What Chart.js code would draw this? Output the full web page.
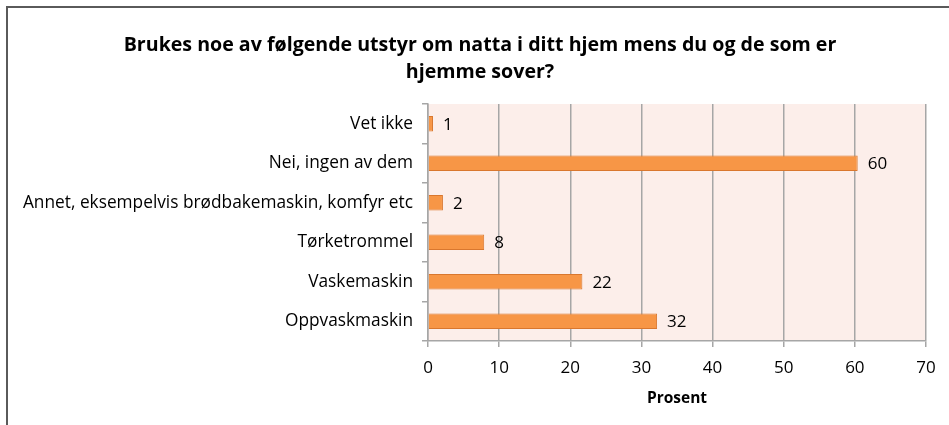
<!DOCTYPE html>
<html>
<head>
<meta charset="utf-8">
<script src="https://cdn.jsdelivr.net/npm/chart.js@4/dist/chart.umd.min.js"></script>
<style>
  html, body { margin: 0; padding: 0; background: #ffffff; }
  #wrap { position: relative; width: 949px; height: 425px; overflow: hidden; }
  #frame { position: absolute; left: 6px; top: 6px; width: 1000px; height: 1000px;
           border-left: 2px solid #5a5a5a; border-top: 2px solid #5a5a5a; box-sizing: border-box; }
  canvas { position: absolute; left: 0; top: 0; }
</style>
</head>
<body>
<div id="wrap">
  <div id="frame"></div>
  <canvas id="c" width="949" height="425"></canvas>
</div>
<script>
const titleLines = ["Brukes noe av følgende utstyr om natta i ditt hjem mens du og de som er", "hjemme sover?"];
const categories = ["Vet ikke", "Nei, ingen av dem", "Annet, eksempelvis brødbakemaskin, komfyr etc", "Tørketrommel", "Vaskemaskin", "Oppvaskmaskin"];
const values = [0.7, 60.4, 2.1, 7.9, 21.7, 32.2];
const valueLabels = ["1", "60", "2", "8", "22", "32"];
const xTicks = [0, 10, 20, 30, 40, 50, 60, 70];
const xTitle = "Prosent";

const FONT = "'Open Sans', Lato, sans-serif";

const plotBg = {
  id: 'plotBg',
  beforeDraw(chart) {
    const {ctx, chartArea: a} = chart;
    ctx.save();
    ctx.fillStyle = '#FCEEEA';
    ctx.fillRect(a.left, a.top, a.right - a.left, a.bottom - a.top);
    ctx.restore();
  }
};

const titleText = {
  id: 'titleText',
  afterDraw(chart) {
    const {ctx} = chart;
    ctx.save();
    ctx.font = "bold 19.6px " + FONT;
    ctx.fillStyle = '#000000';
    ctx.textAlign = 'center';
    ctx.textBaseline = 'middle';
    ctx.fillText(titleLines[0], 480, 45);
    ctx.fillText(titleLines[1], 480, 72);
    ctx.restore();
  }
};

const valLabels = {
  id: 'valLabels',
  afterDatasetsDraw(chart) {
    const {ctx} = chart;
    const meta = chart.getDatasetMeta(0);
    ctx.save();
    ctx.font = "17px " + FONT;
    ctx.fillStyle = '#000000';
    ctx.textAlign = 'left';
    ctx.textBaseline = 'middle';
    meta.data.forEach((bar, i) => {
      ctx.fillText(valueLabels[i], bar.x + 10, bar.y + 1);
    });
    ctx.restore();
  }
};

new Chart(document.getElementById('c'), {
  type: 'bar',
  data: {
    labels: categories,
    datasets: [{
      data: values,
      backgroundColor: '#F79646',
      borderColor: '#D9772E',
      borderWidth: 1,
      categoryPercentage: 1,
      barPercentage: 0.39
    }]
  },
  options: {
    indexAxis: 'y',
    responsive: false,
    animation: false,
    layout: { padding: { left: 0, right: 23, top: 104, bottom: 0 } },
    plugins: {
      legend: { display: false },
      tooltip: { enabled: false },
      title: { display: false }
    },
    scales: {
      x: {
        min: 0, max: 70,
        afterBuildTicks(scale) { scale.ticks = xTicks.map(v => ({ value: v })); },
        afterFit(scale) { scale.height = 84; },
        grid: { color: '#A6A6A6', lineWidth: 1.5, tickLength: 6, drawTicks: true },
        border: { color: '#A6A6A6', width: 1.5 },
        ticks: { color: '#000000', font: { family: FONT, size: 17 }, padding: 11 },
        title: { display: true, text: xTitle, color: '#000000',
                 font: { family: FONT, size: 15.5, weight: 'bold' }, padding: { top: 4, bottom: 17 } }
      },
      y: {
        offset: true,
        afterFit(scale) { scale.width = 428; },
        grid: { offset: true, drawOnChartArea: false, color: '#A6A6A6', lineWidth: 1.5, tickLength: 6 },
        border: { color: '#A6A6A6', width: 1.5 },
        ticks: { color: '#000000', font: { family: FONT, size: 17.3 }, padding: 9 }
      }
    }
  },
  plugins: [plotBg, valLabels, titleText]
});
</script>
</body>
</html>
